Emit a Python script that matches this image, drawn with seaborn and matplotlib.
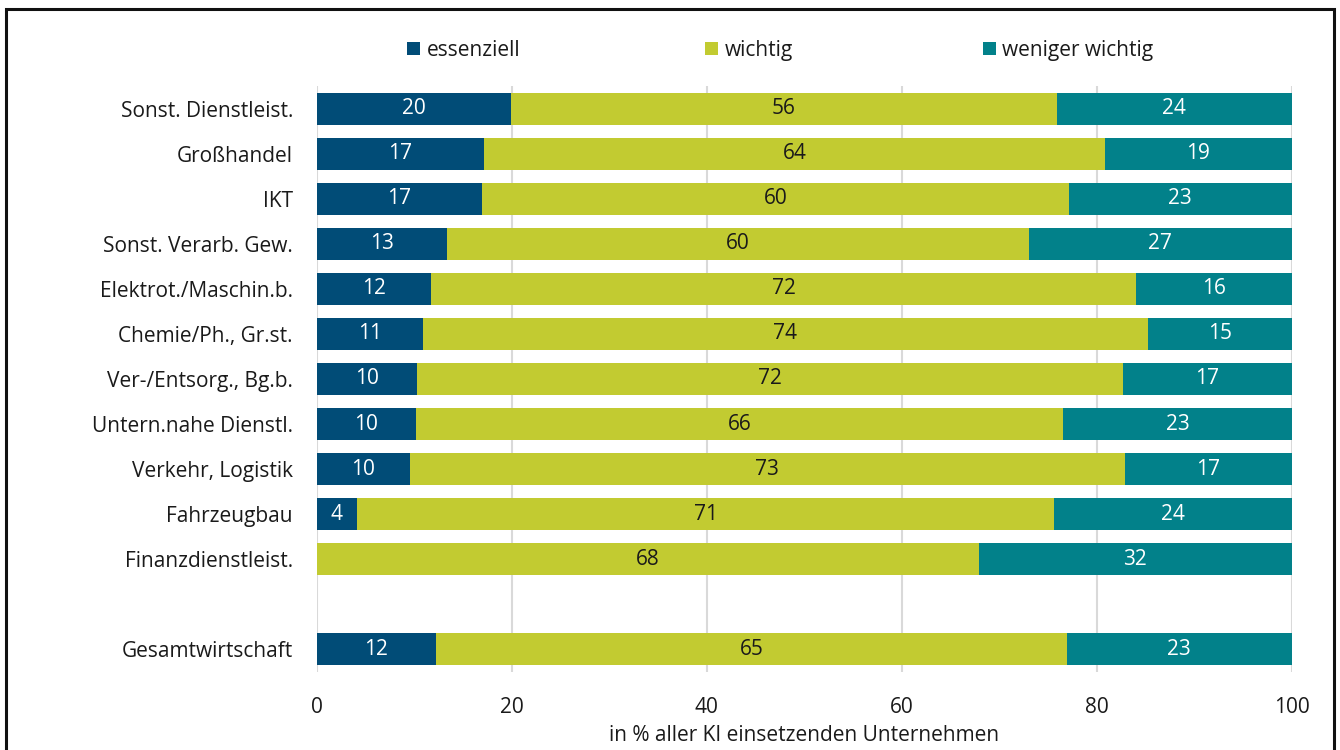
import numpy as np
import pandas as pd
import matplotlib
matplotlib.use("Agg")
import matplotlib.pyplot as plt
from matplotlib.patches import Patch, Rectangle
import seaborn as sns

categories = ["Sonst. Dienstleist.", "Großhandel", "IKT", "Sonst. Verarb. Gew.",
              "Elektrot./Maschin.b.", "Chemie/Ph., Gr.st.", "Ver-/Entsorg., Bg.b.",
              "Untern.nahe Dienstl.", "Verkehr, Logistik", "Fahrzeugbau",
              "Finanzdienstleist.", "Gesamtwirtschaft"]
essenziell = [19.9, 17.2, 17.0, 13.4, 11.7, 10.9, 10.3, 10.2, 9.6, 4.2, 0.0, 12.3]
wichtig = [56.0, 63.7, 60.2, 59.7, 72.4, 74.4, 72.4, 66.4, 73.3, 71.4, 67.9, 64.7]
weniger = [24.1, 19.1, 22.8, 26.9, 15.9, 14.7, 17.3, 23.4, 17.1, 24.4, 32.1, 23.0]
series_names = ["essenziell", "wichtig", "weniger wichtig"]
xticks = [0, 20, 40, 60, 80, 100]
xlabel = "in % aller KI einsetzenden Unternehmen"

C_ESS = "#014C77"
C_WIC = "#C2CB31"
C_WEN = "#02818A"
TXT = "#1a1a1a"

sns.set_theme(style="white")
plt.rcParams["font.family"] = ["Open Sans", "DejaVu Sans"]
FS = 15

df = pd.DataFrame({"cat": categories, "e": essenziell, "w": wichtig, "l": weniger})
df["c1"] = df["e"]
df["c2"] = df["e"] + df["w"]
df["c3"] = df["e"] + df["w"] + df["l"]

order = categories[:-1] + [" "] + categories[-1:]

fig = plt.figure(figsize=(13.4, 7.5), dpi=100)
ax = fig.add_axes([316.5 / 1340, 1 - 672 / 750, 975 / 1340, 586 / 750])

bw = 0.71
sns.barplot(data=df, y="cat", x="c3", order=order, color=C_WEN, width=bw,
            orient="h", ax=ax, saturation=1, linewidth=0)
sns.barplot(data=df, y="cat", x="c2", order=order, color=C_WIC, width=bw,
            orient="h", ax=ax, saturation=1, linewidth=0)
sns.barplot(data=df[df["c1"] > 0], y="cat", x="c1", order=order, color=C_ESS, width=bw,
            orient="h", ax=ax, saturation=1, linewidth=0)


def fmt(v):
    return str(int(np.floor(v + 0.5)))


for _, r in df.iterrows():
    yi = order.index(r["cat"])
    segs = [(0, r["e"], "white"), (r["e"], r["w"], TXT), (r["e"] + r["w"], r["l"], "white")]
    for left, val, col in segs:
        if val > 0:
            ax.text(left + val / 2, yi, fmt(val), ha="center", va="center",
                    color=col, fontsize=FS)

ax.set_xlim(0, 100)
ax.set_ylim(len(order) - 0.5, -0.5)
ax.set_xticks(xticks)
ax.set_xticklabels([str(t) for t in xticks])
ax.xaxis.grid(True, color="#D9D9D9", lw=1.5)
ax.yaxis.grid(False)
ax.set_axisbelow(True)
for s in ax.spines.values():
    s.set_visible(False)
ax.tick_params(axis="both", length=0, labelsize=FS, colors=TXT)
ax.tick_params(axis="y", pad=17)
ax.tick_params(axis="x", pad=18)
ax.set_ylabel("")
ax.set_xlabel(xlabel, fontsize=FS, color=TXT, labelpad=5)

# legends
leg_x = [407, 705, 983]
cols = [C_ESS, C_WIC, C_WEN]
for name, col, lx in zip(series_names, cols, leg_x):
    fig.legend(handles=[Patch(facecolor=col, edgecolor="none")], labels=[name],
               loc="center left", bbox_to_anchor=(lx / 1340, 1 - 50.5 / 750),
               frameon=False, fontsize=FS, handlelength=0.63, handleheight=0.63,
               handletextpad=0.3, borderpad=0, borderaxespad=0, labelcolor=TXT)

fig.patches.append(Rectangle((6 / 1340, -0.05), (1334 - 6) / 1340, 1.05 - 9.5 / 750,
                             transform=fig.transFigure, fill=False, edgecolor="#111111",
                             lw=2.2, clip_on=False))

fig.savefig("out.png", dpi=100)
